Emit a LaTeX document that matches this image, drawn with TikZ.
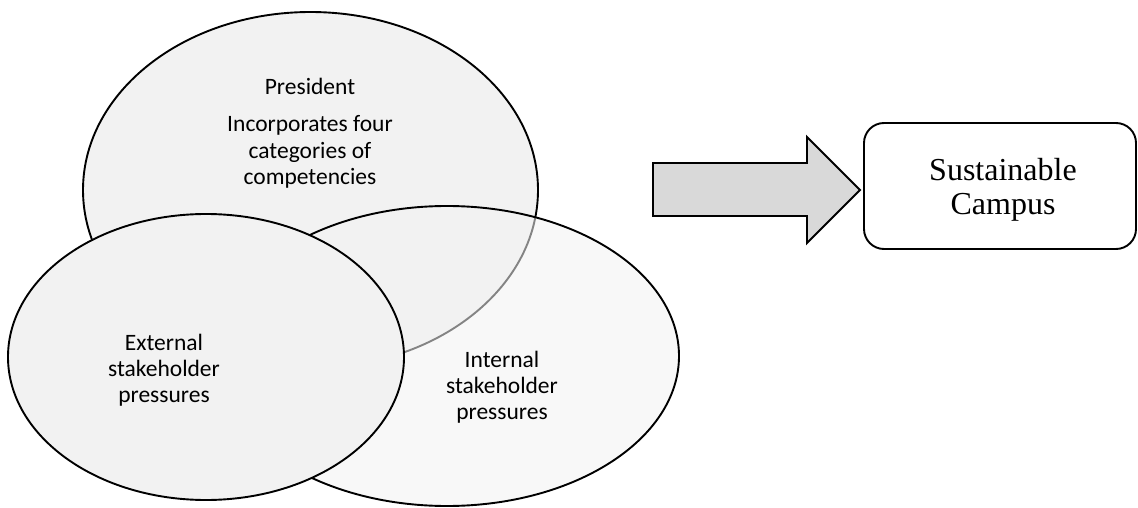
\documentclass[tikz,border=0pt]{standalone}
\usepackage{fontspec}
\setmainfont{Carlito}
\newfontfamily\timesf{Liberation Serif}
\usetikzlibrary{shapes.geometric}
\definecolor{vfill}{HTML}{F2F2F2}
\definecolor{arrowgrey}{HTML}{D9D9D9}
\begin{document}
\begin{tikzpicture}[x=1pt,y=-1pt,
  venn/.style={ellipse, draw=black, line width=1.9pt, inner sep=0pt, fill=vfill},
  lbl/.style={align=center, font=\fontsize{23.5}{26}\selectfont, inner sep=0pt, anchor=base},
  boxlbl/.style={align=center, font=\timesf\fontsize{32}{34}\selectfont, inner sep=0pt, anchor=base},
  blockarrow/.style={draw=black, line width=1.9pt, fill=arrowgrey, line join=miter},
  roundbox/.style={draw=black, line width=1.9pt, rounded corners=20pt, inner sep=0pt, fill=white}
]
\useasboundingbox (0,0) rectangle (1138,508);
% ellipses
\node[venn, minimum width=455pt, minimum height=356pt] (pres) at (310.5,190) {};
\node[venn, fill opacity=0.55, minimum width=464pt, minimum height=300pt] (int) at (447,356) {};
\node[venn, minimum width=396pt, minimum height=286pt] (ext) at (206,357) {};
% labels (anchor base = baseline of the last line)
\node[lbl] (prestext) at (310,184) {President\\[11pt]Incorporates four\\categories of\\competencies};
\node[lbl] (exttext) at (164,402) {External\\stakeholder\\pressures};
\node[lbl] (inttext) at (502,419) {Internal\\stakeholder\\pressures};
% block arrow
\draw[blockarrow] (653,163) -- (807,163) -- (807,137) -- (860,190) -- (807,243) -- (807,216) -- (653,216) -- cycle;
% result box
\node[roundbox, minimum width=272pt, minimum height=126pt] (campus) at (1000,186) {};
\node[boxlbl] (campustext) at (1003,214) {Sustainable\\Campus};
\end{tikzpicture}
\end{document}
